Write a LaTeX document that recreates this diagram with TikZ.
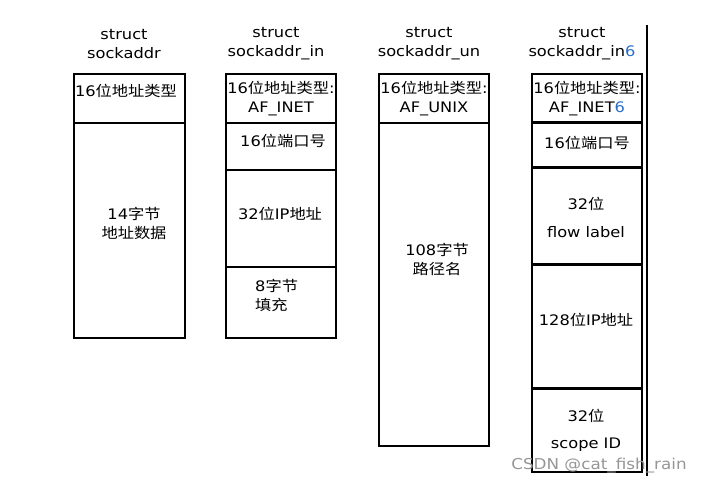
\documentclass[tikz,border=0pt]{standalone}
\usepackage{fontspec}
\setmainfont[FakeStretch=1.12]{DejaVu Sans}
\newfontfamily\zhfont[FakeStretch=1.12]{Noto Sans CJK SC}
\newcommand{\zh}[1]{{\zhfont #1}}
\definecolor{sixblue}{RGB}{40,110,200}
\definecolor{markgray}{RGB}{150,150,150}
\begin{document}
\begin{tikzpicture}[x=1pt,y=-1pt,
  cell/.style={draw, line width=2.2pt},
  thickcell/.style={draw, line width=3pt},
  lbl/.style={font=\fontsize{14.5}{19}\selectfont, inner sep=0pt, align=center}]
\useasboundingbox (0,0) rectangle (702,484);

% struct sockaddr
\node[lbl] (sa-t) at (124,44) {struct\\sockaddr};
\draw[cell] (74,74) rectangle (185,338);
\draw[cell] (74,123) -- (185,123);
\node[lbl] (sa-fam) at (126,91) {16\zh{位地址类型}};
\node[lbl] (sa-data) at (134,223) {14\zh{字节}\\\zh{地址数据}};

% struct sockaddr_in
\node[lbl] (in-t) at (276,44) {struct\\sockaddr\_in};
\draw[cell] (226,74) rectangle (336,338);
\draw[cell] (226,123) -- (336,123);
\draw[cell] (226,170) -- (336,170);
\draw[cell] (226,267) -- (336,267);
\node[lbl] (in-fam) at (281,99) {16\zh{位地址类型}:\\AF\_INET};
\node[lbl] (in-port) at (283,141) {16\zh{位端口号}};
\node[lbl] (in-addr) at (280,214) {32\zh{位}IP\zh{地址}};
\node[lbl, align=left, anchor=west] (in-pad) at (255,295) {8\zh{字节}\\\zh{填充}};

% struct sockaddr_un
\node[lbl] (un-t) at (429,44) {struct\\sockaddr\_un};
\draw[cell] (379,74) rectangle (489,446);
\draw[cell] (379,123) -- (489,123);
\node[lbl] (un-fam) at (434,99) {16\zh{位地址类型}:\\AF\_UNIX};
\node[lbl] (un-path) at (437,259) {108\zh{字节}\\\zh{路径名}};

% struct sockaddr_in6
\node[lbl] (in6-t) at (582,44) {struct\\sockaddr\_in\textcolor{sixblue}{6}};
\draw[cell] (532,74) rectangle (642,472);
\draw[thickcell] (532,123) -- (642,123);
\draw[thickcell] (532,168) -- (642,168);
\draw[thickcell] (532,264) -- (642,264);
\draw[thickcell] (532,388) -- (642,388);
\node[lbl] (in6-fam) at (587,99) {16\zh{位地址类型}:\\AF\_INET\textcolor{sixblue}{6}};
\node[lbl] (in6-port) at (587,143) {16\zh{位端口号}};
\node[lbl, font=\fontsize{14.5}{28}\selectfont] (in6-flow) at (586,217) {32\zh{位}\\flow label};
\node[lbl] (in6-addr) at (586,320) {128\zh{位}IP\zh{地址}};
\node[lbl, font=\fontsize{14.5}{27}\selectfont] (in6-scope) at (586,430) {32\zh{位}\\scope ID};
\draw[line width=1.5pt] (647,25) -- (647,476);

\node[lbl, text=markgray, font=\fontsize{15}{19}\selectfont] (mark) at (599,466) {CSDN @cat\_fish\_rain};
\end{tikzpicture}
\end{document}
